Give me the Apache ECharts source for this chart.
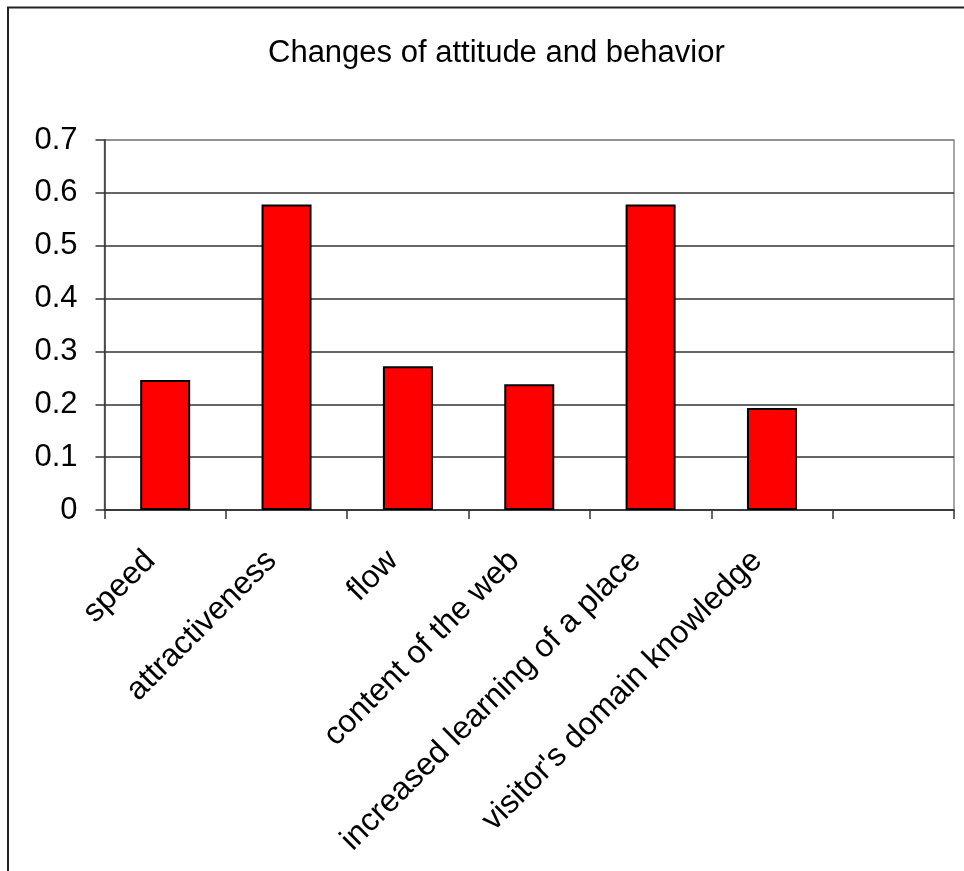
<!DOCTYPE html>
<html>
<head>
<meta charset="utf-8">
<script src="https://cdn.jsdelivr.net/npm/echarts@6/dist/echarts.min.js"></script>
<style>
  html, body { margin: 0; padding: 0; background: #fff; }
  #chart { width: 964px; height: 871px; }
</style>
</head>
<body>
<div id="chart"></div>
<script>
// Categories along the x axis (the last slot is left empty)
const categories = [
  'speed',
  'attractiveness',
  'flow',
  'content of the web',
  'increased learning of a place',
  "visitor's domain knowledge",
  ''
];
// Mean change for each category
const values = [0.246, 0.578, 0.272, 0.238, 0.578, 0.193, null];
// Value axis range
const yMin = 0;
const yMax = 0.7;
const yStep = 0.1;

const FONT = '"Liberation Sans", Arial, sans-serif';

const chart = echarts.init(document.getElementById('chart'), null, { renderer: 'canvas' });

chart.setOption({
  backgroundColor: '#ffffff',
  animation: false,
  title: {
    text: 'Changes of attitude and behavior',
    left: 263,
    top: 33,
    textStyle: { fontFamily: FONT, fontSize: 31, fontWeight: 'normal', color: '#000' }
  },
  grid: {
    left: 104.5,
    right: 10,
    top: 140,
    bottom: 361,
    show: true,
    borderColor: '#8a8a8a',
    borderWidth: 1.5,
    backgroundColor: 'transparent'
  },
  xAxis: {
    type: 'category',
    data: categories,
    boundaryGap: true,
    axisLine: { show: true, lineStyle: { color: '#333', width: 1.5 } },
    axisTick: { show: true, alignWithLabel: false, length: 9, lineStyle: { color: '#333', width: 1.5 } },
    axisLabel: {
      interval: 0,
      rotate: 45,
      margin: 31,
      padding: [0, 21, 0, 0],
      fontFamily: FONT,
      fontSize: 32,
      color: '#000'
    },
    splitLine: { show: false }
  },
  yAxis: {
    type: 'value',
    min: yMin,
    max: yMax,
    interval: yStep,
    axisLine: { show: true, lineStyle: { color: '#333', width: 1.5 } },
    axisTick: { show: true, length: 9, lineStyle: { color: '#333', width: 1.5 } },
    axisLabel: {
      margin: 27,
      fontFamily: FONT,
      fontSize: 31,
      color: '#000',
      formatter: v => String(Math.round(v * 10) / 10)
    },
    splitLine: {
      show: true,
      lineStyle: {
        color: ['#333', '#333', '#333', '#333', '#333', '#333', '#333', '#8a8a8a'],
        width: 1.5
      }
    }
  },
  series: [{
    type: 'bar',
    data: values,
    barWidth: 50,
    itemStyle: { color: '#ff0000', borderColor: '#000', borderWidth: 2 },
    z: 3
  }],
  graphic: [{
    type: 'polyline',
    silent: true,
    shape: { points: [[8, 871], [8, 7.5], [964, 7.5]] },
    style: { stroke: '#222', lineWidth: 2, fill: null }
  }]
});
</script>
</body>
</html>
